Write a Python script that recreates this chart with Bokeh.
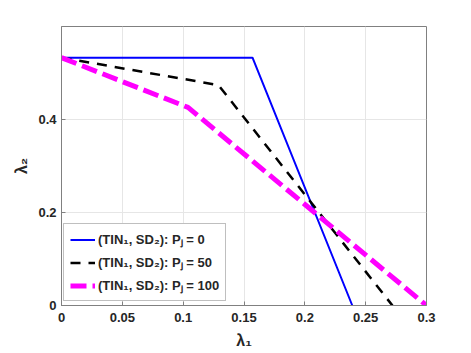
from bokeh.plotting import figure
from bokeh.models import (Range1d, FixedTicker, Legend, LegendItem)
from bokeh.embed import file_html
from bokeh.resources import INLINE

# data
x_pj0 = [0.0, 0.157, 0.239]
y_pj0 = [0.533, 0.533, 0.0]
x_pj50 = [0.0, 0.129, 0.272]
y_pj50 = [0.533, 0.474, 0.0]
x_pj100 = [0.0, 0.104, 0.300]
y_pj100 = [0.533, 0.426, 0.0]
labels = ["(TIN\u2081, SD\u2082): P\u2C7C = 0",
          "(TIN\u2081, SD\u2082): P\u2C7C = 50",
          "(TIN\u2081, SD\u2082): P\u2C7C = 100"]
x_ticks = [0, 0.05, 0.1, 0.15, 0.2, 0.25, 0.3]
y_ticks = [0, 0.2, 0.4]

FONT = "Liberation Sans"
AX = "#808080"
TXT = "#262626"

p = figure(width=463, height=353, output_backend="svg",
           toolbar_location=None, x_range=Range1d(0, 0.3), y_range=Range1d(0, 0.6),
           min_border_left=61, min_border_top=26, min_border_right=37, min_border_bottom=48)
p.background_fill_color = "white"
p.border_fill_color = "white"
p.outline_line_color = AX

r0 = p.line(x_pj0, y_pj0, line_color="#0000ff", line_width=2)
r1 = p.line(x_pj50, y_pj50, line_color="black", line_width=2.5, line_dash="10 8")
r2 = p.line(x_pj100, y_pj100, line_color="#ff00ff", line_width=5, line_dash="16 6")

for ax in (p.xaxis[0], p.yaxis[0]):
    ax.axis_line_color = AX
    ax.major_tick_line_color = AX
    ax.major_tick_in = 4
    ax.major_tick_out = 0
    ax.minor_tick_line_color = None
    ax.major_label_text_font = FONT
    ax.major_label_text_font_style = "bold"
    ax.major_label_text_font_size = "13px"
    ax.major_label_text_color = TXT
    ax.axis_label_text_font = FONT
    ax.axis_label_text_font_style = "bold"
    ax.axis_label_text_font_size = "16px"
    ax.axis_label_text_color = TXT

p.xaxis[0].ticker = FixedTicker(ticks=x_ticks)
p.yaxis[0].ticker = FixedTicker(ticks=y_ticks)
p.xaxis[0].axis_label = "\u03bb\u2081"
p.yaxis[0].axis_label = "\u03bb\u2082"
p.xaxis[0].major_label_standoff = 7
p.yaxis[0].major_label_standoff = 5
p.xaxis[0].axis_label_standoff = 7
p.yaxis[0].axis_label_standoff = 5

p.xgrid.ticker = FixedTicker(ticks=x_ticks)
p.ygrid.ticker = FixedTicker(ticks=y_ticks)
p.grid.grid_line_color = "#e6e6e6"
p.grid.grid_line_width = 1

legend = Legend(items=[LegendItem(label=labels[0], renderers=[r0]),
                       LegendItem(label=labels[1], renderers=[r1]),
                       LegendItem(label=labels[2], renderers=[r2])],
                location=(2, 4), margin=0, padding=6, spacing=5,
                glyph_width=25, glyph_height=17, label_height=17, label_standoff=3,
                label_text_font=FONT, label_text_font_style="bold",
                label_text_font_size="13px", label_text_color=TXT,
                border_line_color=AX, border_line_width=1,
                background_fill_color="white", background_fill_alpha=1)
p.add_layout(legend, "center")

open("out.html", "w").write(file_html(p, INLINE))
